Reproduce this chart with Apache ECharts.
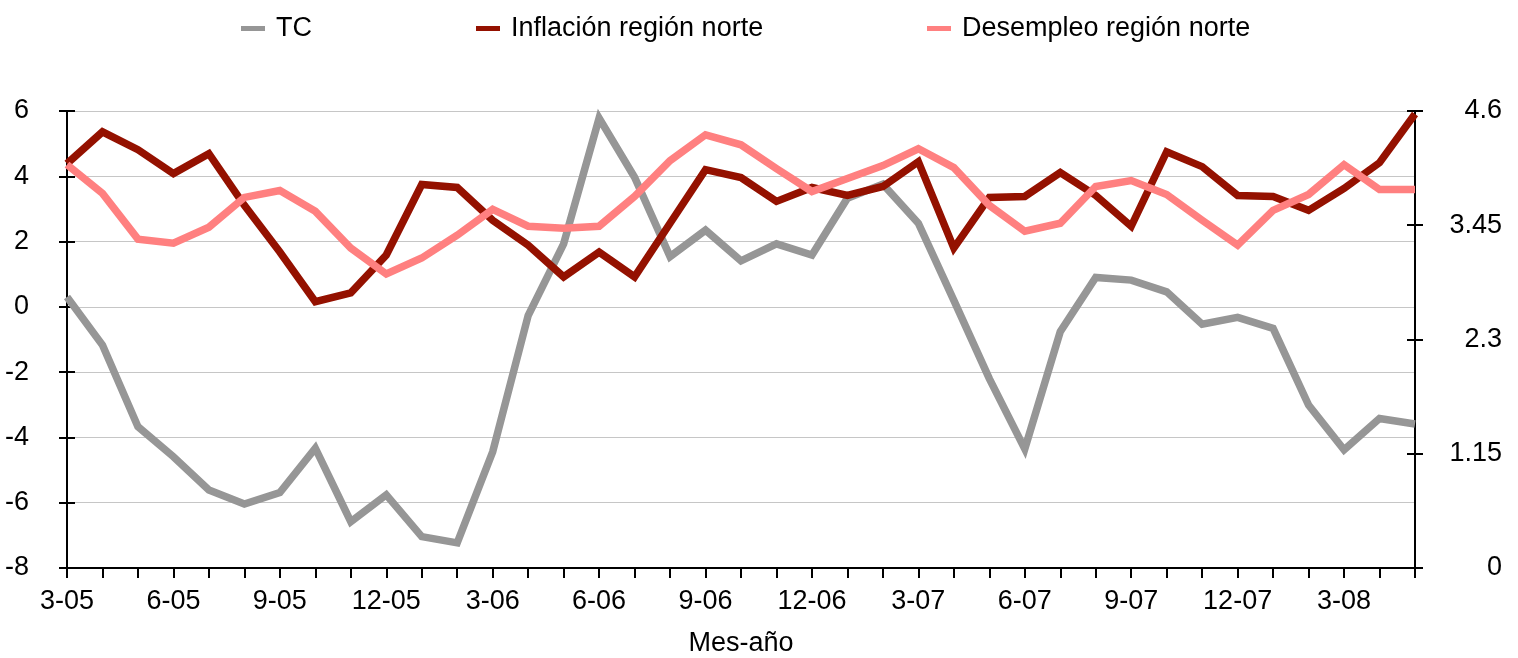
<!DOCTYPE html>
<html lang="es">
<head>
<meta charset="utf-8">
<title>TC, inflación y desempleo región norte</title>
<script src="https://cdn.jsdelivr.net/npm/echarts@6/dist/echarts.min.js"></script>
<style>
  html, body { margin: 0; padding: 0; background: #fff; }
  #chart { width: 1518px; height: 658px; }
</style>
</head>
<body>
<div id="chart"></div>
<script>
// Meses (mes-año), de marzo 2005 a mayo 2008
const meses = [
  '3-05','4-05','5-05','6-05','7-05','8-05','9-05','10-05','11-05','12-05',
  '1-06','2-06','3-06','4-06','5-06','6-06','7-06','8-06','9-06','10-06','11-06','12-06',
  '1-07','2-07','3-07','4-07','5-07','6-07','7-07','8-07','9-07','10-07','11-07','12-07',
  '1-08','2-08','3-08','4-08','5-08'
];

// Tipo de cambio (eje izquierdo)
const tc = [
  0.30, -1.17, -3.67, -4.59, -5.61, -6.04, -5.69, -4.33, -6.58, -5.76,
  -7.04, -7.23, -4.44, -0.27, 1.93, 5.78, 3.97, 1.54, 2.35, 1.41, 1.93, 1.59,
  3.33, 3.76, 2.56, 0.20, -2.20, -4.35, -0.76, 0.90, 0.82, 0.46, -0.53, -0.32,
  -0.66, -3.01, -4.38, -3.42, -3.59
];

// Inflación región norte (eje derecho)
const inflacion = [
  4.07, 4.39, 4.21, 3.97, 4.17, 3.65, 3.18, 2.68, 2.77, 3.15,
  3.86, 3.83, 3.50, 3.25, 2.93, 3.18, 2.93, 3.47, 4.01, 3.93, 3.69, 3.83,
  3.75, 3.84, 4.09, 3.22, 3.73, 3.74, 3.98, 3.75, 3.44, 4.19, 4.04, 3.75,
  3.74, 3.60, 3.82, 4.08, 4.57
];

// Desempleo región norte (eje derecho)
const desempleo = [
  4.06, 3.77, 3.31, 3.27, 3.43, 3.73, 3.80, 3.59, 3.22, 2.96,
  3.12, 3.35, 3.61, 3.44, 3.42, 3.44, 3.74, 4.10, 4.36, 4.26, 4.02, 3.79,
  3.92, 4.05, 4.22, 4.03, 3.65, 3.39, 3.47, 3.84, 3.90, 3.76, 3.50, 3.25,
  3.60, 3.76, 4.06, 3.81, 3.81
];

// Escalas de los ejes
const ejeIzq = { min: -8, max: 6, interval: 2 };
const ejeDer = { min: 0, max: 4.6, interval: 1.15 };

const FONT = '"Liberation Sans", Arial, sans-serif';
const FS = 27;
const negro = '#000';
const GROSOR = 7.5;

const chart = echarts.init(document.getElementById('chart'), null, { renderer: 'canvas' });

const legendBase = {
  top: 10,
  icon: 'rect',
  itemWidth: 24,
  itemHeight: 5,
  textStyle: { fontFamily: FONT, fontSize: FS, color: negro, padding: [0, 0, 0, 6] }
};

function ejeY(pos, escala, inside, extra) {
  return Object.assign({
    type: 'value',
    position: pos,
    min: escala.min,
    max: escala.max,
    interval: escala.interval,
    axisLine: { show: true, lineStyle: { color: negro, width: 2 } },
    axisTick: { show: true, inside: inside, length: 8, lineStyle: { color: negro, width: 2 } },
    axisLabel: { show: false },
    splitLine: { show: false }
  }, extra || {});
}

const option = {
  backgroundColor: '#fff',
  animation: false,
  textStyle: { fontFamily: FONT },
  legend: [
    Object.assign({ left: 236, data: ['TC'] }, legendBase),
    Object.assign({ left: 471, data: ['Inflación región norte'] }, legendBase),
    Object.assign({ left: 922, data: ['Desempleo región norte'] }, legendBase)
  ],
  grid: { left: 67, right: 103, top: 111, bottom: 90, containLabel: false, outerBoundsMode: 'none' },
  xAxis: {
    type: 'category',
    data: meses,
    boundaryGap: false,
    name: 'Mes-año',
    nameLocation: 'middle',
    nameGap: 62,
    nameTextStyle: { fontFamily: FONT, fontSize: FS, color: negro },
    axisLine: { show: true, onZero: false, lineStyle: { color: negro, width: 2 } },
    axisTick: { show: true, interval: 0, length: 10, lineStyle: { color: negro, width: 2 } },
    axisLabel: { interval: 2, margin: 20, fontFamily: FONT, fontSize: FS, color: negro },
    splitLine: { show: false }
  },
  yAxis: [
    ejeY('left', ejeIzq, false, {
      axisLabel: { show: true, margin: 38, fontFamily: FONT, fontSize: FS, color: negro },
      splitLine: { show: true, lineStyle: { color: '#c6c6c6', width: 1 } }
    }),
    ejeY('left', ejeIzq, true),
    ejeY('right', ejeDer, false, {
      axisLabel: {
        show: true, margin: 87, align: 'right', fontFamily: FONT, fontSize: FS, color: negro,
        formatter: v => String(parseFloat(v.toFixed(2)))
      }
    }),
    ejeY('right', ejeDer, true)
  ],
  series: [
    {
      name: 'TC', type: 'line', yAxisIndex: 0, data: tc,
      showSymbol: false, symbol: 'none',
      lineStyle: { color: '#969696', width: GROSOR, join: 'miter', cap: 'butt' },
      itemStyle: { color: '#969696' }
    },
    {
      name: 'Inflación región norte', type: 'line', yAxisIndex: 2, data: inflacion,
      showSymbol: false, symbol: 'none',
      lineStyle: { color: '#941100', width: GROSOR, join: 'miter', cap: 'butt' },
      itemStyle: { color: '#941100' }
    },
    {
      name: 'Desempleo región norte', type: 'line', yAxisIndex: 2, data: desempleo,
      showSymbol: false, symbol: 'none',
      lineStyle: { color: '#ff8080', width: GROSOR, join: 'miter', cap: 'butt' },
      itemStyle: { color: '#ff8080' }
    }
  ]
};

chart.setOption(option);
</script>
</body>
</html>
